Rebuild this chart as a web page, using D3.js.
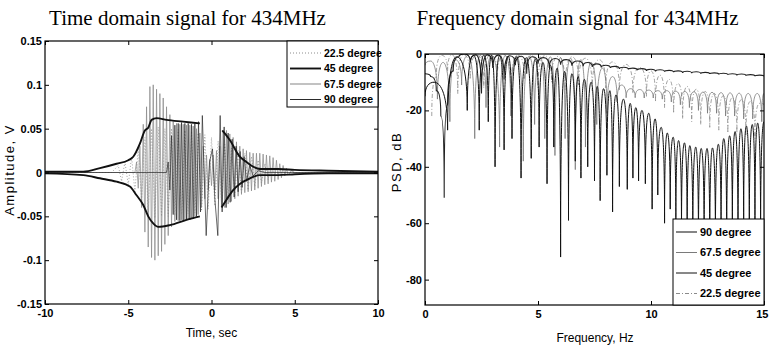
<!DOCTYPE html>
<html>
<head>
<meta charset="utf-8">
<script src="https://cdn.jsdelivr.net/npm/d3@7"></script>
<style>
  html, body { margin: 0; padding: 0; background: #fff; }
  svg { display: block; }
  text { fill: #000; }
</style>
</head>
<body>
<svg id="chart" width="769" height="350"></svg>
<script>
// ---------- tick values ----------
const timeTicks = [-10, -5, 0, 5, 10];
const ampTicks = [-0.15, -0.1, -0.05, 0, 0.05, 0.1, 0.15];
const freqTicks = [0, 5, 10, 15];
const psdTicks = [-80, -60, -40, -20, 0];

// ---------- legend entries ----------
const timeLegend = ["22.5 degree", "45 degree", "67.5 degree", "90 degree"];
const freqLegend = ["90 degree", "67.5 degree", "45 degree", "22.5 degree"];

// ---------- time domain, [t (s), amplitude (V)] ----------
const sig45Upper = [[-10,0.001],[-7.7,0.001],[-6.7,0.005],[-5.7,0.010],[-5.0,0.014],[-4.7,0.018],[-4.3,0.033],[-4.0,0.048],[-3.8,0.051],[-3.6,0.060],[-3.3,0.062],[-2.7,0.060],[-1.7,0.058],[-0.7,0.056],[-0.5,null],[0.65,0.048],[1.1,0.037],[1.7,0.018],[2.1,0.012],[2.5,0.0066],[2.9,0.004],[4.0,0.004],[5.0,0.003],[7.0,0.002],[10,0.001]];
const sig45Lower = [[-10,-0.001],[-7.7,-0.003],[-6.7,-0.0066],[-5.7,-0.0105],[-4.9,-0.016],[-4.5,-0.026],[-4.1,-0.037],[-3.8,-0.050],[-3.5,-0.058],[-3.2,-0.062],[-2.5,-0.060],[-1.5,-0.054],[-0.7,-0.050],[-0.5,null],[0.6,-0.04],[0.9,-0.031],[1.3,-0.02],[1.7,-0.013],[2.1,-0.0086],[2.5,-0.005],[2.9,-0.003],[4.0,-0.003],[5.0,-0.002],[7.0,-0.001],[10,-0.001]];

const sig225 = [[-10,0],[-6,0],[-5.6,0.008],[-5.4,-0.01],[-5.2,0.012],[-5.0,-0.014],[-4.8,0.018],[-4.6,-0.022],[-4.4,0.028],[-4.2,-0.033],[-4.0,0.04],[-3.8,-0.045],[-3.6,0.05],[-3.4,-0.052],[-3.2,0.052],[-3.0,-0.05],[-2.8,0.05],[-2.6,-0.05],[-2.4,0.05],[-2.2,-0.049],[-2.0,0.049],[-1.8,-0.048],[-1.6,0.048],[-1.4,-0.047],[-1.2,0.047],[-1.0,-0.046],[-0.8,0.045],[-0.6,-0.044],[-0.4,0.043],[-0.2,-0.042],[0.0,0.04],[0.2,-0.038],[0.4,0.036],[0.6,-0.034],[0.8,0.032],[1.0,-0.03],[1.2,0.028],[1.4,-0.026],[1.6,0.025],[1.8,-0.023],[2.0,0.022],[2.2,-0.02],[2.4,0.018],[2.6,-0.016],[2.8,0.014],[3.0,-0.012],[3.2,0.01],[3.4,-0.008],[3.6,0.006],[3.8,-0.004],[4.2,0],[10,0]];

const sig675 = [[-10,0],[-4.6,0],[-4.5,0.012],[-4.4,-0.018],[-4.3,0.03],[-4.2,-0.04],[-4.1,0.055],[-4.0,-0.068],[-3.9,0.075],[-3.8,-0.085],[-3.7,0.098],[-3.6,-0.097],[-3.5,0.1],[-3.4,-0.1],[-3.3,0.095],[-3.2,-0.095],[-3.1,0.09],[-3.0,-0.09],[-2.9,0.085],[-2.8,-0.082],[-2.7,0.075],[-2.6,-0.072],[-2.5,0.066],[-2.4,-0.062],[-2.3,0.058],[-2.2,-0.056],[-2.1,0.056],[-2.0,-0.055],[-1.9,0.055],[-1.8,-0.054],[-1.7,0.055],[-1.6,-0.054],[-1.5,0.054],[-1.4,-0.053],[-1.3,0.054],[-1.2,-0.052],[-1.1,0.053],[-1.0,-0.05],[-0.9,0.05],[-0.8,-0.048],[-0.7,0.045],[-0.6,-0.04],[-0.5,0.03],[-0.4,-0.03],[-0.3,0.02],[-0.2,-0.02],[-0.1,0.015],[0,-0.015],[0.1,0.02],[0.2,-0.02],[0.3,0.025],[0.4,-0.03],[0.5,0.03],[0.6,-0.038],[0.7,0.047],[0.8,-0.04],[0.9,0.048],[1.0,-0.036],[1.1,0.044],[1.2,-0.033],[1.3,0.04],[1.4,-0.03],[1.5,0.035],[1.6,-0.027],[1.7,0.03],[1.8,-0.025],[1.9,0.027],[2.0,-0.023],[2.1,0.025],[2.2,-0.022],[2.3,0.023],[2.4,-0.021],[2.5,0.022],[2.6,-0.02],[2.7,0.022],[2.8,-0.018],[2.9,0.022],[3.0,-0.016],[3.1,0.021],[3.2,-0.014],[3.3,0.02],[3.4,-0.013],[3.5,0.019],[3.6,-0.011],[3.7,0.017],[3.8,-0.01],[3.9,0.014],[4.0,-0.008],[4.1,0.01],[4.2,-0.006],[4.3,0.008],[4.4,-0.004],[4.5,0.005],[4.6,-0.003],[4.8,0.002],[5.0,0],[10,0]];

const sig90 = [[-10,0],[-2.7,0],[-2.6,0.012],[-2.5,-0.02],[-2.4,0.042],[-2.3,-0.048],[-2.2,0.054],[-2.1,-0.054],[-2.0,0.056],[-1.9,-0.055],[-1.8,0.057],[-1.7,-0.055],[-1.6,0.056],[-1.5,-0.054],[-1.4,0.056],[-1.3,-0.054],[-1.2,0.055],[-1.1,-0.053],[-1.0,0.056],[-0.9,-0.05],[-0.78,0.058],[-0.66,-0.045],[-0.55,0.065],[-0.32,-0.072],[-0.12,0.012],[0.06,0.027],[0.2,-0.03],[0.38,-0.072],[0.52,0.065],[0.64,-0.045],[0.76,0.052],[0.88,-0.04],[1.0,0.045],[1.12,-0.034],[1.24,0.038],[1.36,-0.028],[1.48,0.03],[1.6,-0.022],[1.72,0.024],[1.84,-0.017],[1.96,0.018],[2.1,-0.01],[2.3,0.008],[2.5,-0.004],[2.8,0.002],[3.2,0],[10,0]];

// ---------- frequency domain, [f (Hz), PSD (dB)] ----------
const psd90 = [[0,-7],[0.25,-8],[0.5,-13],[0.7,-22],[0.85,-51],[1.0,-18],[1.25,-6],[1.5,-1],[1.75,0],[2.0,-3],[2.25,-0.3],[2.5,-14],[2.75,-0.3],[3.0,-5],[3.25,-0.4],[3.5,-9],[3.75,-0.6],[4.0,-4],[4.25,-0.8],[4.5,-7],[4.75,-1],[5.0,-3.5],[5.25,-1.3],[5.5,-5],[5.75,-1.6],[6.0,-3.8],[6.25,-2],[6.5,-4.2],[6.75,-2.5],[7.0,-4.3],[7.2,-3],[7.4,-4.6],[7.6,-3.5],[7.8,-4.8],[8.0,-4],[8.2,-5],[8.4,-4.4],[8.6,-5.3],[8.8,-4.7],[9.0,-5.5],[9.2,-5],[9.4,-5.8],[9.6,-5.2],[9.8,-6],[10.0,-5.4],[10.2,-6.2],[10.4,-5.6],[10.6,-6.3],[10.8,-5.8],[11.0,-6.5],[11.2,-6],[11.4,-6.7],[11.6,-6.1],[11.8,-6.8],[12.0,-6.3],[12.2,-7],[12.4,-6.5],[12.6,-7.1],[12.8,-6.7],[13.0,-7.3],[13.2,-6.8],[13.4,-7.4],[13.6,-7],[13.8,-7.6],[14.0,-7.1],[14.2,-7.7],[14.4,-7.3],[14.6,-7.9],[14.8,-7.5],[15.0,-8]];

const psd675 = [[0,-4],[0.25,-2.5],[0.55,-16],[0.8,-3],[1.1,-24],[1.35,-2],[1.62,-11],[1.9,-0.5],[2.2,-30],[2.45,-0.5],[2.7,-19],[2.95,-0.5],[3.3,-33],[3.55,-0.6],[3.8,-22],[4.05,-0.7],[4.35,-38],[4.6,-0.8],[4.85,-25],[5.1,-1],[5.3,-30],[5.55,-1],[5.75,-36],[6.0,-1.3],[6.2,-30],[6.45,-1.5],[6.65,-41],[6.9,-2],[7.1,-33],[7.35,-3],[7.6,-25],[7.85,-5],[8.05,-21],[8.3,-8],[8.5,-17],[8.7,-11],[8.9,-15.5],[9.1,-12.3],[9.3,-15.5],[9.5,-12.6],[9.7,-15.6],[9.9,-12.8],[10.1,-15.6],[10.3,-13],[10.5,-16],[10.7,-13],[10.9,-17],[11.1,-13.2],[11.3,-18],[11.5,-13.3],[11.7,-19],[11.9,-13.4],[12.1,-20],[12.3,-13.5],[12.5,-21],[12.7,-13.6],[12.9,-21],[13.1,-13.7],[13.3,-22],[13.5,-13.8],[13.7,-22],[13.9,-13.9],[14.1,-23],[14.3,-14],[14.5,-23],[14.7,-14],[14.9,-24],[15,-14]];

const psd45 = [[0,-15],[0.4,-10],[1.0,-27],[1.4,-1],[1.87,-20],[2.15,-0.5],[2.4,-27],[2.6,-0.4],[2.8,-24],[2.95,-0.5],[3.1,-40],[3.3,-0.6],[3.5,-34],[3.68,-0.7],[3.85,-30],[4.05,-1],[4.25,-44],[4.48,-1.3],[4.7,-37],[4.88,-1.8],[5.05,-33],[5.22,-3],[5.4,-46],[5.55,-4],[5.7,-33],[5.85,-5],[6.0,-72],[6.18,-6.2],[6.35,-59],[6.5,-7],[6.65,-38],[6.78,-8],[6.9,-44],[7.05,-9],[7.2,-40],[7.35,-10],[7.5,-45],[7.62,-11.5],[7.75,-52],[7.9,-12.3],[8.05,-43],[8.18,-13],[8.3,-56],[8.45,-14.5],[8.6,-47],[8.78,-16],[8.95,-48],[9.08,-17.5],[9.2,-44],[9.33,-19],[9.45,-45],[9.6,-20],[9.75,-46],[9.9,-21],[10.05,-55],[10.18,-23],[10.3,-50],[10.45,-26],[10.6,-60],[10.72,-28],[10.85,-55],[10.98,-29.5],[11.1,-62],[11.22,-30.7],[11.35,-64],[11.48,-31.5],[11.6,-66],[11.72,-32.5],[11.85,-68],[11.98,-33],[12.1,-70],[12.22,-33.5],[12.35,-67],[12.48,-33.5],[12.6,-72],[12.72,-33.3],[12.85,-68],[12.98,-32],[13.1,-66],[13.22,-30],[13.35,-70],[13.48,-29],[13.6,-65],[13.72,-27.5],[13.85,-68],[13.98,-26.5],[14.1,-63],[14.22,-25.5],[14.35,-66],[14.48,-25],[14.6,-62],[14.72,-24.5],[14.85,-65],[15,-24]];

const psd225 = [[0.3,-22],[0.5,-8],[0.75,-0.5],[1.0,-6],[1.2,-0.3],[1.45,-14],[1.7,-0.2],[2.0,-9],[2.3,-0.2],[2.6,-12],[2.9,-0.3],[3.2,-8],[3.5,-0.3],[3.8,-14],[4.1,-0.4],[4.4,-9],[4.7,-0.5],[5.0,-12],[5.3,-0.6],[5.6,-10],[5.9,-0.8],[6.2,-13],[6.5,-1],[6.8,-11],[7.1,-1.5],[7.4,-13],[7.7,-2],[8.0,-12],[8.3,-2.8],[8.6,-13],[8.9,-3.7],[9.2,-14],[9.5,-4.8],[9.8,-15],[10.0,-6],[10.2,-17],[10.4,-7.5],[10.6,-19],[10.8,-9],[11.0,-21],[11.2,-10.5],[11.4,-23],[11.6,-11.5],[11.8,-24],[12.0,-12.5],[12.2,-25],[12.4,-13.3],[12.6,-26],[12.8,-14],[13.0,-27],[13.2,-14.8],[13.4,-28],[13.6,-15.5],[13.8,-28],[14.0,-16.2],[14.2,-29],[14.4,-16.8],[14.6,-30],[14.8,-17.5],[15,-18]];

// ---------- styles ----------
const SANS = "'Liberation Sans', Arial, Helvetica, sans-serif";
const SERIF = "'Liberation Serif', 'Times New Roman', Times, serif";

const lineStyle = {
  "22.5": { stroke: "#8c8c8c", width: 0.8, dash: "1,2" },
  "45":   { stroke: "#111",    width: 1.9, dash: null },
  "67.5": { stroke: "#858585", width: 0.7, dash: null },
  "90":   { stroke: "#2a2a2a", width: 0.7, dash: null }
};
const freqStyle = {
  "22.5": { stroke: "#8a8a8a", width: 0.8, dash: "4,2,1,2" },
  "45":   { stroke: "#111",    width: 1.0, dash: null },
  "67.5": { stroke: "#7a7a7a", width: 0.8, dash: null },
  "90":   { stroke: "#222",    width: 1.1, dash: null }
};

// Curve for spectra: broad rounded lobes, sharp vertical nulls.
function notchCurve(context) {
  let x0, y0, n = 0;
  return {
    areaStart() {}, areaEnd() {},
    lineStart() { n = 0; },
    lineEnd() {},
    point(x, y) {
      x = +x; y = +y;
      if (n === 0) context.moveTo(x, y);
      else {
        const dx = x - x0;
        if (y > y0) context.bezierCurveTo(x0 + dx * 0.55, y0, x, y0 + (y - y0) * 0.3, x, y);
        else context.bezierCurveTo(x0, y + (y0 - y) * 0.3, x - dx * 0.55, y, x, y);
      }
      x0 = x; y0 = y; n++;
    }
  };
}

const svg = d3.select("#chart");

function drawBox(g, w, h) {
  g.append("rect").attr("x", 0).attr("y", 0).attr("width", w).attr("height", h)
    .attr("fill", "none").attr("stroke", "#000").attr("stroke-width", 1.2);
}

function styleAxis(sel) {
  sel.select(".domain").remove();
  sel.selectAll(".tick line").attr("stroke", "#000").attr("stroke-width", 1);
  sel.selectAll(".tick text").style("font-size", "11px").style("font-weight", "bold")
    .style("font-family", SANS);
}

function addAxes(g, x, y, w, h, xt, yt) {
  const fmt = d => String(d);
  g.append("g").attr("class", "x-bottom").attr("transform", `translate(0,${h})`)
    .call(d3.axisBottom(x).tickValues(xt).tickFormat(fmt).tickSizeInner(-4).tickSizeOuter(0).tickPadding(5))
    .call(styleAxis);
  g.append("g")
    .call(d3.axisTop(x).tickValues(xt).tickFormat("").tickSizeInner(-4).tickSizeOuter(0))
    .call(styleAxis);
  g.append("g")
    .call(d3.axisLeft(y).tickValues(yt).tickFormat(fmt).tickSizeInner(-4).tickSizeOuter(0).tickPadding(3))
    .call(styleAxis);
  g.append("g").attr("transform", `translate(${w},0)`)
    .call(d3.axisRight(y).tickValues(yt).tickFormat("").tickSizeInner(-4).tickSizeOuter(0))
    .call(styleAxis);
}

function drawLegend(g, x0, y0, w, h, labels, styles, sample, textX, rowY, fs) {
  const lg = g.append("g").attr("transform", `translate(${x0},${y0})`);
  lg.append("rect").attr("width", w).attr("height", h).attr("fill", "#fff")
    .attr("stroke", "#000").attr("stroke-width", 1);
  labels.forEach((lab, i) => {
    const key = lab.split(" ")[0];
    const s = styles[key];
    lg.append("line").attr("x1", sample[0]).attr("x2", sample[1])
      .attr("y1", rowY[i]).attr("y2", rowY[i])
      .attr("stroke", s.stroke).attr("stroke-width", Math.max(s.width, 1))
      .attr("stroke-dasharray", s.dash);
    lg.append("text").attr("x", textX).attr("y", rowY[i]).attr("dy", "0.36em")
      .style("font-family", SANS).style("font-size", fs + "px").style("font-weight", "bold").text(lab);
  });
}

// ================= time domain panel =================
{
  const L = 45, T = 41, W = 333, H = 263;
  const g = svg.append("g").attr("transform", `translate(${L},${T})`);
  const x = d3.scaleLinear().domain([-10, 10]).range([0, W]);
  const y = d3.scaleLinear().domain([-0.15, 0.15]).range([H, 0]);

  g.append("clipPath").attr("id", "clipT").append("rect").attr("width", W).attr("height", H);
  const plot = g.append("g").attr("clip-path", "url(#clipT)");
  const line = d3.line().defined(d => d[1] !== null).x(d => x(d[0])).y(d => y(d[1]));
  const smooth = d3.line().defined(d => d[1] !== null).x(d => x(d[0])).y(d => y(d[1])).curve(d3.curveMonotoneX);

  const series = [["22.5", sig225], ["67.5", sig675], ["90", sig90]];
  series.forEach(([k, data]) => {
    const s = lineStyle[k];
    plot.append("path").datum(data).attr("d", line).attr("fill", "none")
      .attr("stroke", s.stroke).attr("stroke-width", s.width).attr("stroke-dasharray", s.dash)
      .attr("stroke-linejoin", "round");
  });
  [sig45Upper, sig45Lower].forEach(data => {
    const s = lineStyle["45"];
    plot.append("path").datum(data).attr("d", smooth).attr("fill", "none")
      .attr("stroke", s.stroke).attr("stroke-width", s.width).attr("stroke-linejoin", "round");
  });

  drawBox(g, W, H);
  addAxes(g, x, y, W, H, timeTicks, ampTicks);
  drawLegend(g, 242, 0, 91, 66, timeLegend, lineStyle, [3, 34], 37, [12, 27.5, 43, 58.5], 10.5);

  svg.append("text").attr("x", 187.5).attr("y", 25).attr("text-anchor", "middle")
    .style("font-family", SERIF).style("font-size", "21px")
    .text("Time domain signal for 434MHz");
  svg.append("text").attr("x", L + x(0)).attr("y", 337).attr("text-anchor", "middle")
    .style("font-family", SANS).style("font-size", "12px").text("Time, sec");
  svg.append("text").attr("transform", `translate(14,${170}) rotate(-90)`).attr("text-anchor", "middle")
    .style("font-family", SANS).style("font-size", "13px").style("letter-spacing", "1.5px").text("Amplitude, V");
}

// ================= frequency domain panel =================
{
  const L = 425, T = 54, W = 339, H = 251;
  const g = svg.append("g").attr("transform", `translate(${L},${T})`);
  const x = d3.scaleLinear().domain([0, 15]).range([0, W]);
  const y = d3.scaleLinear().domain([-89, 0]).range([H, 0]);

  g.append("clipPath").attr("id", "clipF").append("rect").attr("width", W).attr("height", H);
  const plot = g.append("g").attr("clip-path", "url(#clipF)");
  const line = d3.line().x(d => x(d[0])).y(d => y(d[1])).curve(notchCurve);

  const series = [["22.5", psd225], ["67.5", psd675], ["90", psd90], ["45", psd45]];
  series.forEach(([k, data]) => {
    const s = freqStyle[k];
    plot.append("path").datum(data).attr("d", line).attr("fill", "none")
      .attr("stroke", s.stroke).attr("stroke-width", s.width).attr("stroke-dasharray", s.dash);
  });

  drawBox(g, W, H);
  addAxes(g, x, y, W, H, freqTicks, psdTicks);
  // the last frequency label sits at the page edge; keep it fully inside
  g.select(".x-bottom").selectAll(".tick text")
    .filter(d => d === freqTicks[freqTicks.length - 1])
    .attr("text-anchor", "end").attr("x", 4);
  drawLegend(g, 248, 165, 91, 86, freqLegend, freqStyle, [3, 24], 27, [13, 33.5, 54, 74.5], 11);

  svg.append("text").attr("x", 577.5).attr("y", 25).attr("text-anchor", "middle")
    .style("font-family", SERIF).style("font-size", "21px")
    .text("Frequency domain signal for 434MHz");
  svg.append("text").attr("x", 595).attr("y", 342).attr("text-anchor", "middle")
    .style("font-family", SANS).style("font-size", "12px").text("Frequency, Hz");
  svg.append("text").attr("transform", `translate(401,${162}) rotate(-90)`).attr("text-anchor", "middle")
    .style("font-family", SANS).style("font-size", "13px").style("letter-spacing", "1.5px").text("PSD, dB");
}
</script>
</body>
</html>
